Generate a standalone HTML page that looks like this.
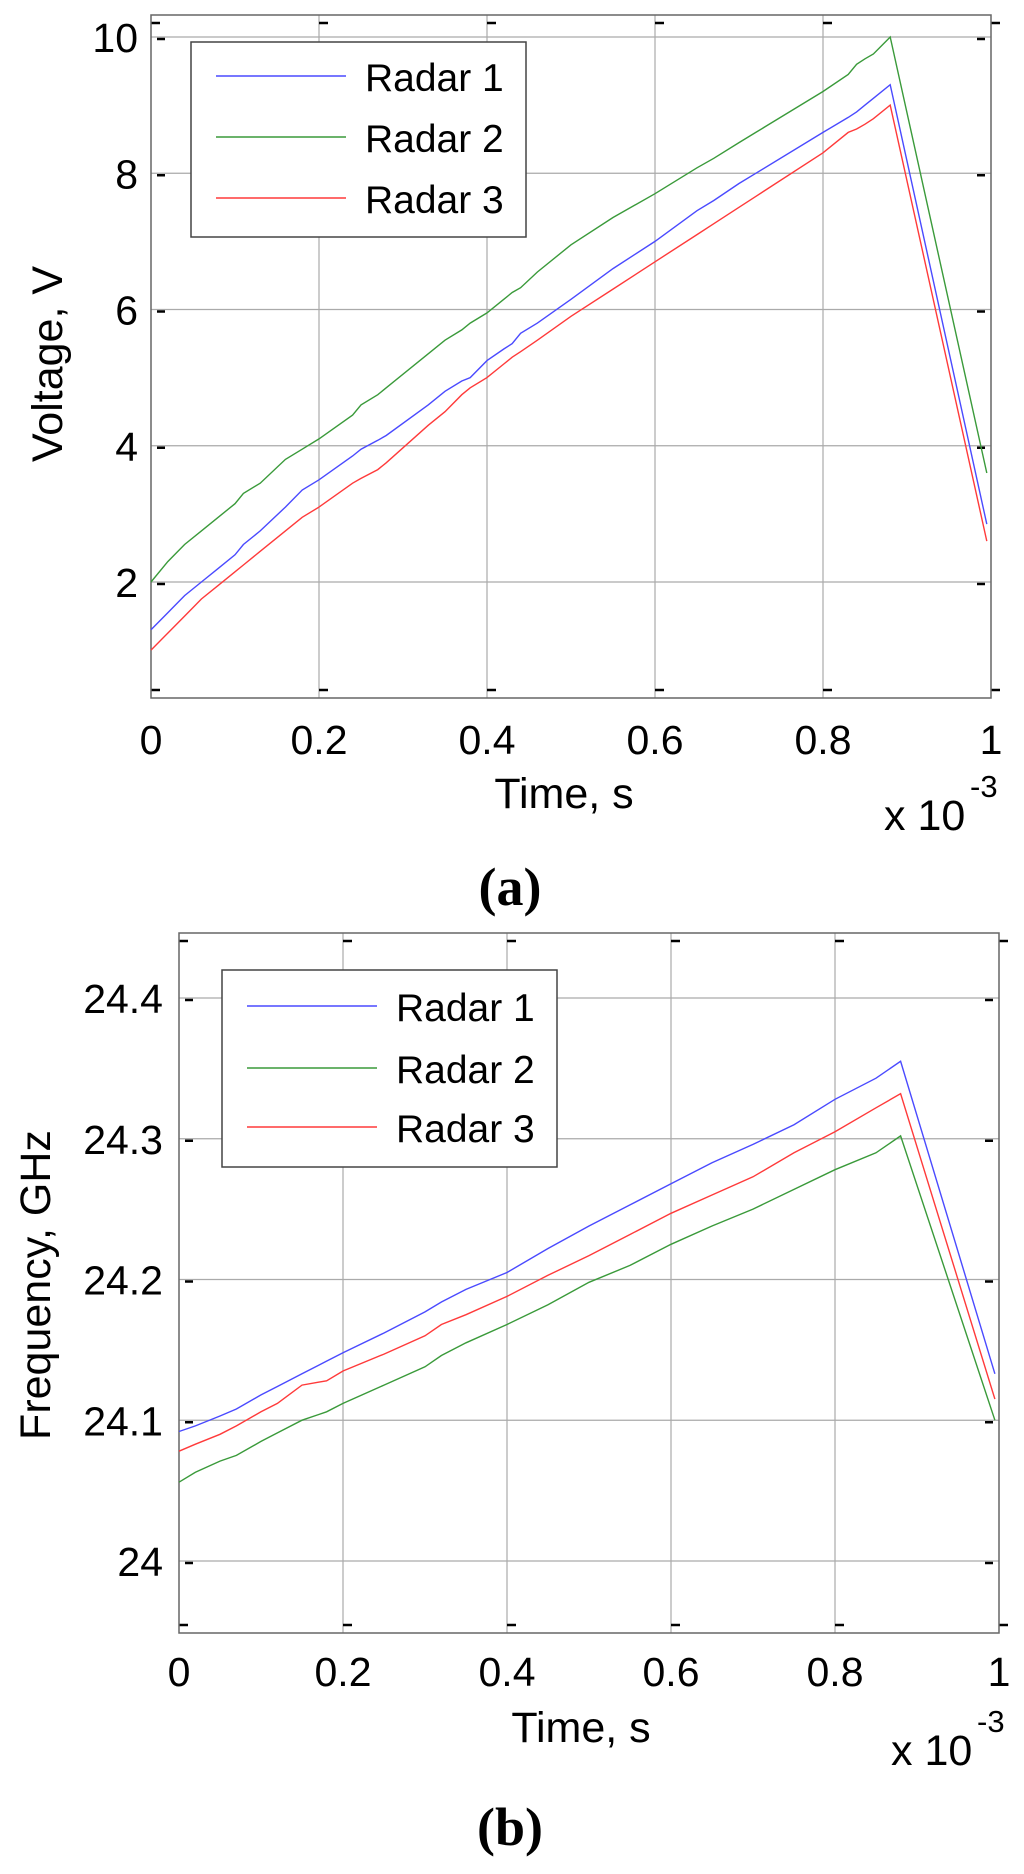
<!DOCTYPE html>
<html><head><meta charset="utf-8"><style>
html,body{margin:0;padding:0;background:#fff;}
svg{display:block;font-family:"Liberation Sans",Arial,sans-serif;}
</style></head><body>
<svg id="fig" width="1024" height="1874" viewBox="0 0 1024 1874" xmlns="http://www.w3.org/2000/svg"></svg>
<script>
// ---- Chart (a) data ----
const tA = [0,0.02,0.04,0.06,0.08,0.1,0.11,0.13,0.16,0.18,0.2,0.24,0.25,0.27,0.28,0.33,0.35,0.37,0.38,0.4,0.42,0.43,0.44,0.46,0.5,0.55,0.6,0.65,0.67,0.7,0.72,0.8,0.83,0.84,0.85,0.86,0.88,0.995];
const voltR1 = [1.3,1.55,1.8,2.0,2.2,2.4,2.55,2.75,3.1,3.35,3.5,3.85,3.95,4.08,4.15,4.6,4.8,4.95,5.0,5.25,5.42,5.5,5.65,5.8,6.15,6.6,7.0,7.45,7.6,7.85,8.0,8.6,8.82,8.9,9.0,9.1,9.3,2.85];
const voltR2 = [2.0,2.3,2.55,2.75,2.95,3.15,3.3,3.45,3.8,3.95,4.1,4.45,4.6,4.75,4.85,5.35,5.55,5.7,5.8,5.95,6.15,6.25,6.32,6.55,6.95,7.35,7.7,8.08,8.22,8.45,8.6,9.2,9.45,9.6,9.68,9.75,10.0,3.6];
const voltR3 = [1.0,1.25,1.5,1.75,1.95,2.15,2.25,2.45,2.75,2.95,3.1,3.45,3.52,3.65,3.75,4.3,4.5,4.75,4.85,5.0,5.2,5.3,5.38,5.55,5.9,6.3,6.7,7.1,7.26,7.5,7.66,8.3,8.6,8.65,8.72,8.8,9.0,2.6];
const xTicksA = [0,0.2,0.4,0.6,0.8,1];
const xTickLabelsA = ["0","0.2","0.4","0.6","0.8","1"];
const yTicksA = [2,4,6,8,10];
const yTickLabelsA = ["2","4","6","8","10"];
// ---- Chart (b) data ----
const tB = [0,0.02,0.05,0.07,0.1,0.12,0.15,0.17,0.18,0.2,0.25,0.3,0.32,0.35,0.4,0.45,0.5,0.55,0.6,0.65,0.7,0.75,0.8,0.85,0.88,0.995];
const freqR1 = [24.092,24.096,24.103,24.108,24.118,24.124,24.133,24.139,24.142,24.148,24.162,24.177,24.184,24.193,24.205,24.222,24.238,24.253,24.268,24.283,24.296,24.31,24.328,24.343,24.355,24.133];
const freqR2 = [24.056,24.063,24.071,24.075,24.085,24.091,24.1,24.104,24.106,24.112,24.125,24.138,24.146,24.155,24.168,24.182,24.198,24.21,24.225,24.238,24.25,24.264,24.278,24.29,24.302,24.1];
const freqR3 = [24.078,24.083,24.09,24.096,24.106,24.112,24.125,24.127,24.128,24.135,24.147,24.16,24.168,24.175,24.188,24.203,24.217,24.232,24.247,24.26,24.273,24.29,24.305,24.322,24.332,24.115];
const xTicksB = [0,0.2,0.4,0.6,0.8,1];
const xTickLabelsB = ["0","0.2","0.4","0.6","0.8","1"];
const yTicksB = [24,24.1,24.2,24.3,24.4];
const yTickLabelsB = ["24","24.1","24.2","24.3","24.4"];
const seriesNames = ["Radar 1","Radar 2","Radar 3"];

const NS = "http://www.w3.org/2000/svg";
const svg = document.getElementById("fig");
function mk(tag, attrs, parent, text){
  const e = document.createElementNS(NS, tag);
  for (const k in attrs) e.setAttribute(k, attrs[k]);
  if (text !== undefined) e.textContent = text;
  (parent || svg).appendChild(e);
  return e;
}
const colors = ["#4a4aff","#3a9a3a","#ff3a3a"];

function drawChart(cfg){
  const g = mk("g", {});
  
  
  const X = v => cfg.x0 + (v - cfg.xmin) / (cfg.xmax - cfg.xmin) * (cfg.x1 - cfg.x0);
  const Y = v => cfg.yv0 - (v - cfg.yvmin) / (cfg.yvmax - cfg.yvmin) * (cfg.yv0 - cfg.yv1);
  cfg.xTicks.forEach((v,i) => {
    const x = X(v);
    if (i>0 && i<cfg.xTicks.length-1){
      const l = mk("line",{x1:x,y1:cfg.top,x2:x,y2:cfg.bottom,stroke:"#aaa","stroke-width":1.2},g);
      
      
    }
    const t = mk("text",{x:x,y:cfg.xLabBase,"font-size":41,"text-anchor":"middle",fill:"#000"},g,cfg.xTickLabels[i]);
    
    
    mk("line",{x1:x,y1:cfg.bottom-8,x2:x+9,y2:cfg.bottom-8,stroke:"#000","stroke-width":2.5},g);
    mk("line",{x1:x,y1:cfg.top+8,x2:x+9,y2:cfg.top+8,stroke:"#000","stroke-width":2.5},g);
  });
  cfg.yTicks.forEach((v,i) => {
    const y = Y(v);
    const l = mk("line",{x1:cfg.x0,y1:y,x2:cfg.x1,y2:y,stroke:"#aaa","stroke-width":1.2},g);
    
    
    const t = mk("text",{x:cfg.yLabRight,y:y+15,"font-size":41,"text-anchor":"end",fill:"#000"},g,cfg.yTickLabels[i]);
    
    
    mk("line",{x1:cfg.x0+6,y1:y+2,x2:cfg.x0+14,y2:y+2,stroke:"#000","stroke-width":2.5},g);
    mk("line",{x1:cfg.x1-14,y1:y+2,x2:cfg.x1-6,y2:y+2,stroke:"#000","stroke-width":2.5},g);
  });
  const box = mk("rect",{x:cfg.x0,y:cfg.top,width:cfg.x1-cfg.x0,height:cfg.bottom-cfg.top,fill:"none",stroke:"#666","stroke-width":1.5},g);
  
  
  cfg.series.forEach((s,si) => {
    const d = cfg.t.map((tv,i) => (i?"L":"M") + X(tv).toFixed(1) + "," + Y(s[i]).toFixed(1)).join(" ");
    const p = mk("path",{d:d,fill:"none",stroke:colors[si],"stroke-width":1.4},g);
    
    
  });
  const L = cfg.legend;
  const lg = mk("g",{},g);
  
  
  mk("rect",{x:L.x,y:L.y,width:L.w,height:L.h,fill:"#fff",stroke:"#444","stroke-width":1.5},lg);
  seriesNames.forEach((n,i) => {
    const ly = L.rows[i];
    const ln = mk("line",{x1:L.x+25,y1:ly,x2:L.x+155,y2:ly,stroke:colors[i],"stroke-width":1.4},lg);
    
    
    const t = mk("text",{x:L.x+174,y:ly+15,"font-size":39,fill:"#000"},lg,n);
    
    
  });
  const xl = mk("text",{x:cfg.xTitleX,y:cfg.xTitleY,"font-size":43,"text-anchor":"middle",fill:"#000"},g,"Time, s");
  
  
  const yl = mk("text",{x:0,y:0,"font-size":43,"text-anchor":"middle",fill:"#000",transform:"translate("+cfg.yTitleX+","+cfg.yTitleY+") rotate(-90)"},g,cfg.yTitle);
  
  
  const ex = mk("text",{x:cfg.expX,y:cfg.expY,"font-size":43,fill:"#000"},g,"x 10");
  
  
  mk("text",{x:cfg.expX+86,y:cfg.expY-33,"font-size":31,fill:"#000"},g,"-3");
  const cap = mk("text",{x:510,y:cfg.capY,"font-size":54,"font-weight":"bold","text-anchor":"middle","font-family":"Liberation Serif, serif",fill:"#000"},g,cfg.caption);
  
  
}

drawChart({name:"chart-a-voltage", x0:151, x1:991, xmin:0, xmax:1, top:15, bottom:698,
  yvmin:2, yvmax:10, yv0:582, yv1:37,
  t:tA, series:[voltR1,voltR2,voltR3], xTicks:xTicksA, xTickLabels:xTickLabelsA,
  yTicks:yTicksA, yTickLabels:yTickLabelsA, xLabBase:754, yLabRight:138,
  legend:{x:191,y:42,w:335,h:195,rows:[76,137,198]},
  xTitleX:564, xTitleY:808, yTitle:"Voltage, V", yTitleX:62, yTitleY:364,
  expX:884, expY:830, caption:"(a)", capY:905});

drawChart({name:"chart-b-frequency", x0:179, x1:999, xmin:0, xmax:1, top:933, bottom:1633,
  yvmin:24, yvmax:24.4, yv0:1561, yv1:998,
  t:tB, series:[freqR1,freqR2,freqR3], xTicks:xTicksB, xTickLabels:xTickLabelsB,
  yTicks:yTicksB, yTickLabels:yTickLabelsB, xLabBase:1686, yLabRight:163,
  legend:{x:222,y:970,w:335,h:197,rows:[1006,1068,1127]},
  xTitleX:581, xTitleY:1742, yTitle:"Frequency, GHz", yTitleX:50, yTitleY:1285,
  expX:891, expY:1765, caption:"(b)", capY:1845});
</script>
</body></html>
